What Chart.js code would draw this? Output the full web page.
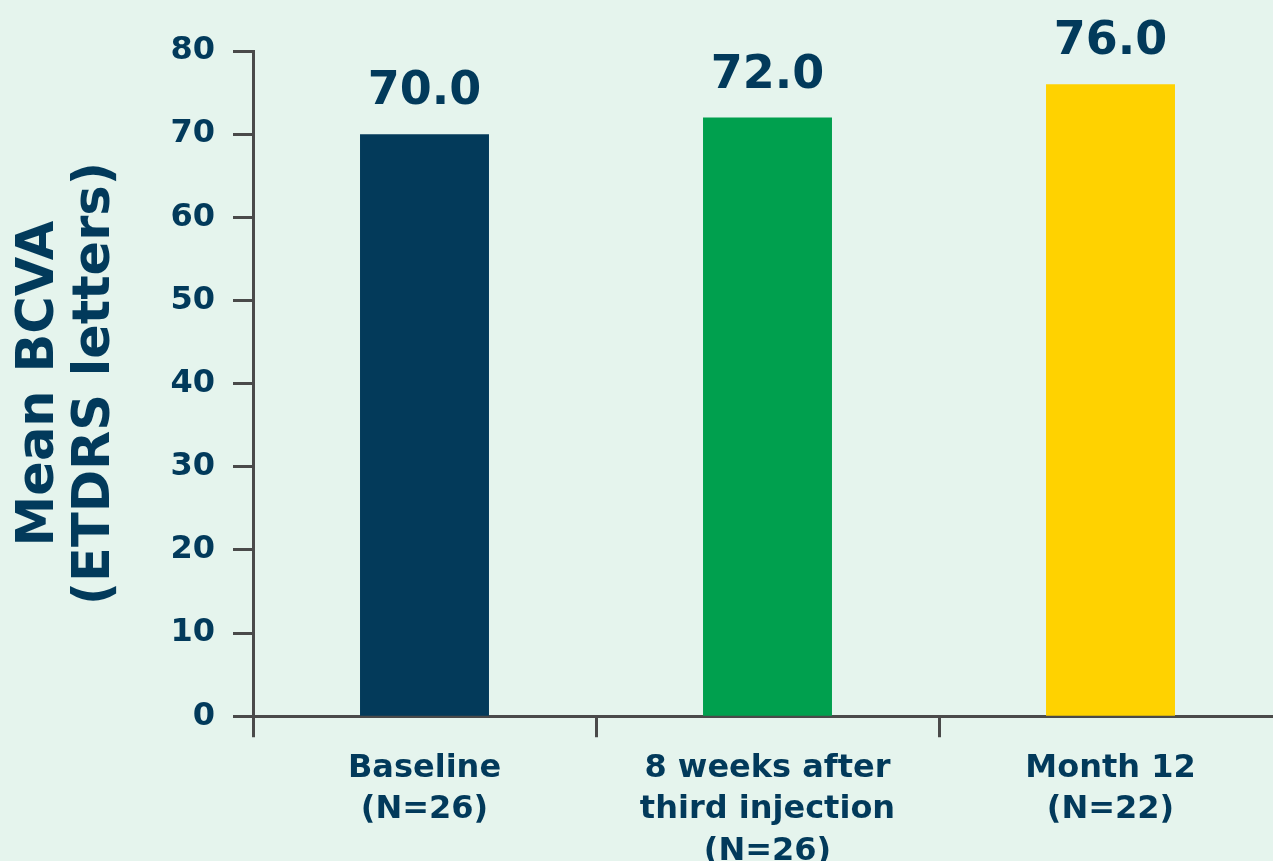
<!DOCTYPE html>
<html>
<head>
<meta charset="utf-8">
<script src="https://cdn.jsdelivr.net/npm/chart.js@4"></script>
<style>
  html, body { margin: 0; padding: 0; background: #e5f4ed; overflow: hidden; }
  #wrap { width: 1282px; height: 883px; }
</style>
</head>
<body>
<div id="wrap"><canvas id="myChart"></canvas></div>
<script>
// chart data
var categories = [
  ["Baseline", "(N=26)"],
  ["8 weeks after", "third injection", "(N=26)"],
  ["Month 12", "(N=22)"]
];
var values = [70.0, 72.0, 76.0];
var barColors = ["#033a5a", "#00a04e", "#ffd200"];
var yTicks = [0, 10, 20, 30, 40, 50, 60, 70, 80];

var navy = "#023a5b";
var axisGray = "#4a4a4a";
var fontFamily = "'DejaVu Sans', sans-serif";

// value labels above the bars
const valueLabels = {
  id: 'valueLabels',
  afterDatasetsDraw(chart) {
    const ctx = chart.ctx;
    const meta = chart.getDatasetMeta(0);
    ctx.save();
    ctx.font = "bold 46px " + fontFamily;
    ctx.fillStyle = navy;
    ctx.textAlign = "center";
    ctx.textBaseline = "alphabetic";
    meta.data.forEach((bar, i) => {
      ctx.fillText(values[i].toFixed(1), bar.x, bar.y - 30);
    });
    ctx.restore();
  }
};

const ctx = document.getElementById('myChart');
var myChart = new Chart(ctx, {
  type: 'bar',
  data: {
    labels: categories,
    datasets: [{
      data: values,
      backgroundColor: barColors,
      barPercentage: 1,
      categoryPercentage: 0.376,
    }]
  },
  plugins: [valueLabels],
  options: {
    responsive: true,
    maintainAspectRatio: false,
    animation: false,
    layout: { padding: { top: 51, left: 0, right: 0, bottom: 0 } },
    scales: {
      y: {
        min: 0,
        max: 80,
        afterBuildTicks: (scale) => { scale.ticks = yTicks.map(v => ({ value: v })); },
        afterFit: (scale) => { scale.width = 253; },
        border: { color: axisGray, width: 3 },
        grid: {
          drawOnChartArea: false,
          drawTicks: true,
          tickLength: 20,
          tickWidth: 3,
          tickColor: axisGray,
        },
        ticks: {
          color: navy,
          padding: 18,
          font: { family: fontFamily, size: 32, weight: 'bold' },
        },
        title: {
          display: true,
          text: ["Mean BCVA", "(ETDRS letters)"],
          color: navy,
          padding: { top: 12, bottom: 10 },
          font: { family: fontFamily, size: 51, weight: 'bold', lineHeight: 1.1 },
        },
      },
      x: {
        border: { color: axisGray, width: 3 },
        grid: {
          offset: true,
          drawOnChartArea: false,
          drawTicks: true,
          tickLength: 21,
          tickWidth: 3,
          tickColor: axisGray,
        },
        ticks: {
          color: navy,
          padding: 10,
          maxRotation: 0,
          font: { family: fontFamily, size: 32, weight: 'bold', lineHeight: 1.31 },
        },
      },
    },
    plugins: {
      legend: { display: false },
      tooltip: { enabled: false },
    }
  }
});
</script>
</body>
</html>
